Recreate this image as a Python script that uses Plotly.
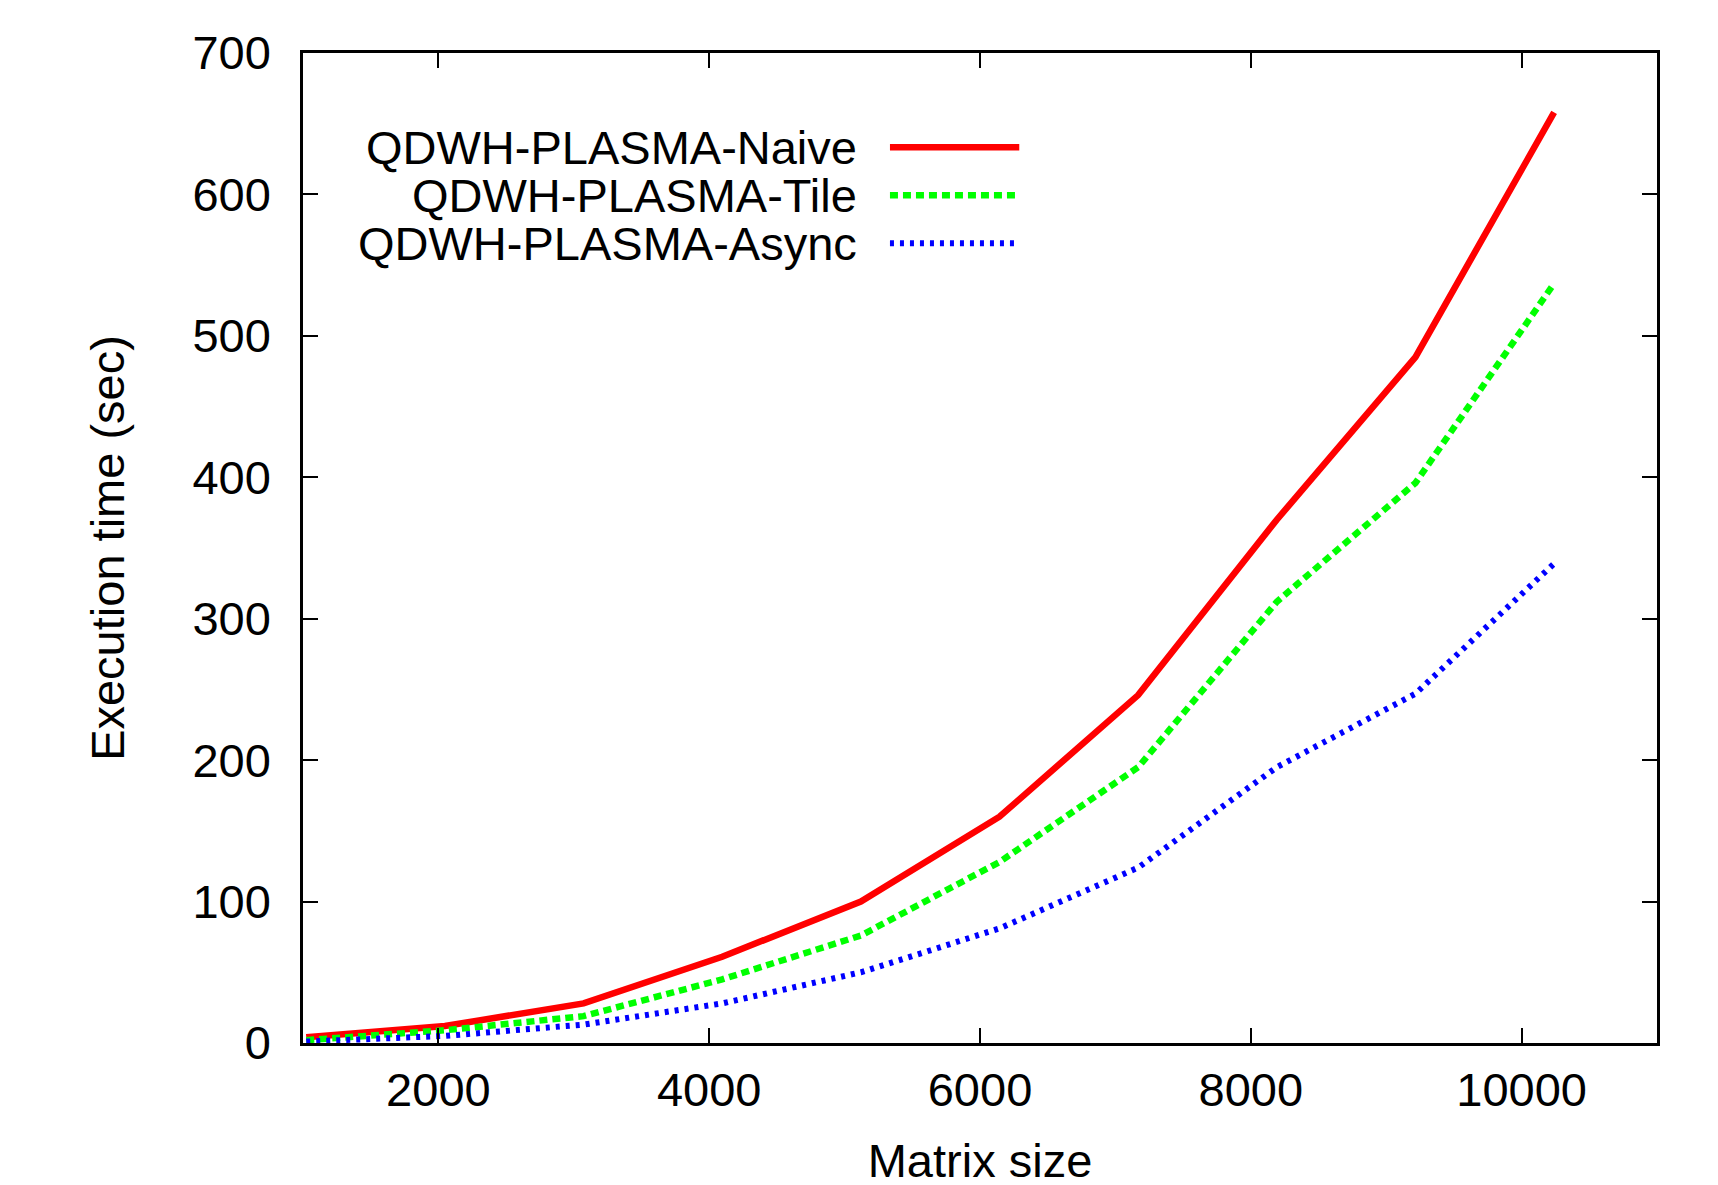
import plotly.graph_objects as go

matrix_size = [1024, 2048, 3072, 4096, 5120, 6144, 7168, 8192, 9216, 10240]
naive = [4, 12, 28, 61, 100, 160, 246, 370, 485, 658]
tile = [2, 9, 19, 45, 76, 128, 195, 312, 396, 537]
async_ = [1, 5, 13, 28, 50, 81, 124, 195, 247, 339]

x_ticks = [2000, 4000, 6000, 8000, 10000]
x_ticktext = ["2000", "4000", "6000", "8000", "10000"]
y_ticks = [0, 100, 200, 300, 400, 500, 600, 700]

series_names = ["QDWH-PLASMA-Naive", "QDWH-PLASMA-Tile", "QDWH-PLASMA-Async"]
series_values = [naive, tile, async_]
colors = ["#ff0000", "#00ff00", "#0000ff"]
dashes = ["solid", "8px,5px", "4px,6px"]
widths = [6.5, 6.5, 6]

FONT = "Liberation Sans, Arial, sans-serif"
FSIZE = 47

fig = go.Figure()
for name, vals, c, d, w in zip(series_names, series_values, colors, dashes, widths):
    fig.add_trace(
        go.Scatter(
            x=matrix_size,
            y=vals,
            mode="lines",
            name=name,
            line=dict(color=c, dash=d, width=w),
            showlegend=False,
        )
    )

# gnuplot-style key: text right-aligned, sample line on the right
legend_y = [0.9047, 0.8563, 0.8079]
for name, c, d, w, ly in zip(series_names, colors, dashes, widths, legend_y):
    fig.add_annotation(
        x=0.411, y=ly, xref="paper", yref="paper",
        text=name, showarrow=False, xanchor="right", yanchor="middle",
        font=dict(family=FONT, size=FSIZE, color="black"),
    )
    fig.add_shape(
        type="line", xref="paper", yref="paper",
        x0=0.4335, x1=0.529, y0=ly, y1=ly,
        line=dict(color=c, dash=d, width=w),
    )

axis_common = dict(
    showline=True,
    linecolor="black",
    linewidth=2.5,
    mirror="allticks",
    ticks="inside",
    ticklen=15,
    tickwidth=2,
    tickcolor="black",
    showgrid=False,
    zeroline=False,
    automargin=False,
    tickfont=dict(family=FONT, size=FSIZE, color="black"),
)

fig.update_xaxes(
    range=[1000, 11000],
    tickvals=x_ticks,
    ticktext=x_ticktext,
    ticklabelstandoff=4,
    title=dict(text="Matrix size", font=dict(family=FONT, size=FSIZE, color="black"), standoff=29),
    **axis_common,
)
fig.update_yaxes(
    range=[0, 700],
    tickvals=y_ticks,
    ticklabelstandoff=20,
    title=dict(text="Execution time (sec)", font=dict(family=FONT, size=FSIZE, color="black"), standoff=53),
    **axis_common,
)

# page body adds an 8px margin, so the figure is offset to line up with the target
fig.update_layout(
    width=1702,
    height=1185,
    margin=dict(l=295, r=53, t=45, b=150),
    plot_bgcolor="white",
    paper_bgcolor="white",
    font=dict(family=FONT, color="black"),
)

fig.write_html("out.html")
